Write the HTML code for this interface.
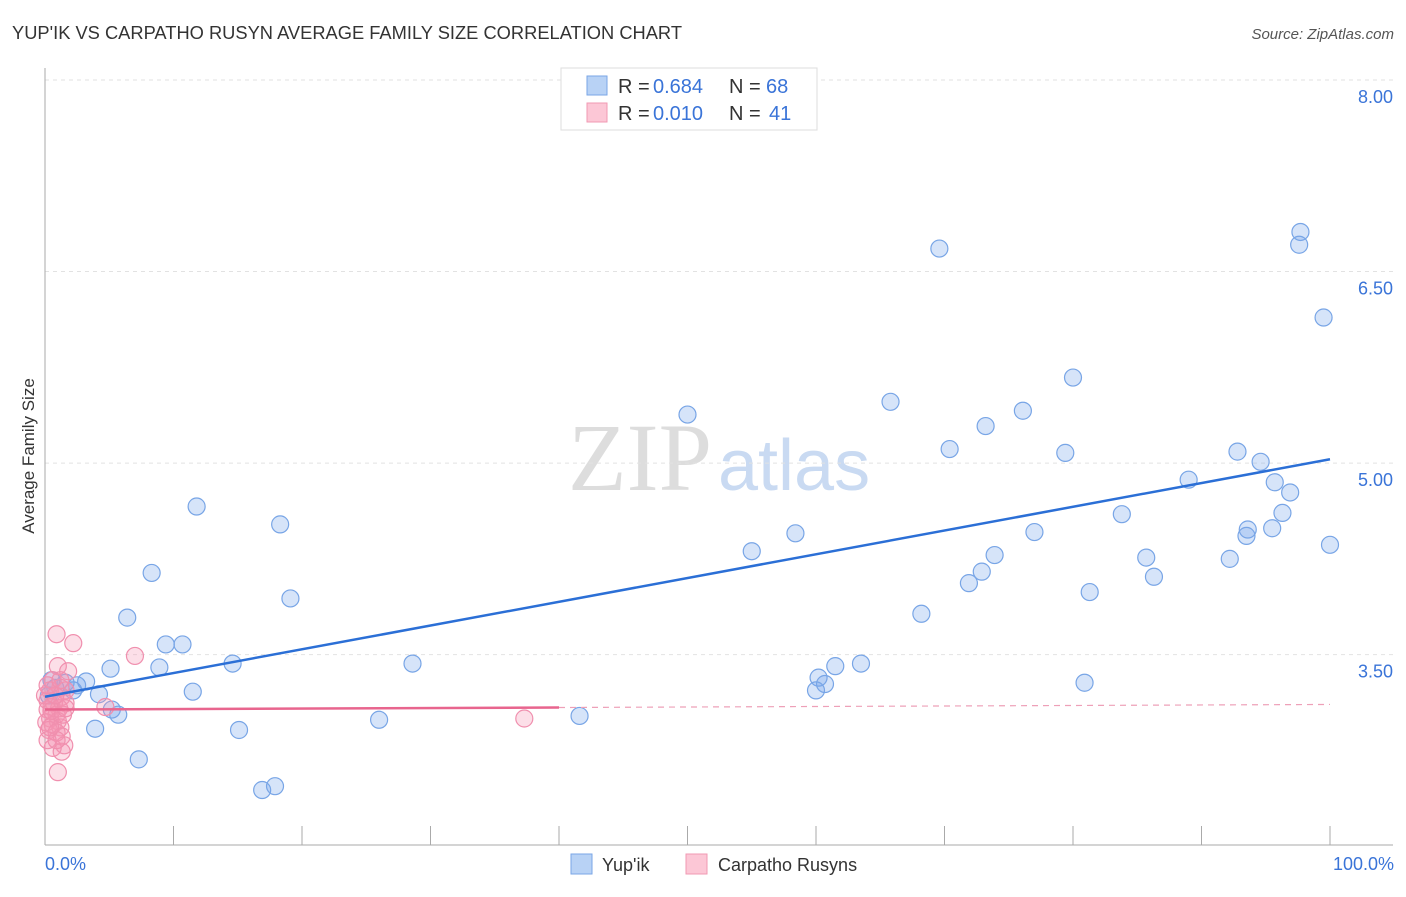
<!DOCTYPE html>
<html><head><meta charset="utf-8"><style>
body{margin:0;background:#fff;font-family:"Liberation Sans",sans-serif}
</style></head><body>
<svg width="1406" height="892" xmlns="http://www.w3.org/2000/svg" font-family="Liberation Sans, sans-serif">
<text x="12" y="39" font-size="18" fill="#333" textLength="670" lengthAdjust="spacingAndGlyphs">YUP'IK VS CARPATHO RUSYN AVERAGE FAMILY SIZE CORRELATION CHART</text>
<text x="1394" y="39" font-size="15" fill="#555" text-anchor="end" font-style="italic">Source: ZipAtlas.com</text>
<text x="712" y="490" font-size="96" fill="#ddd" text-anchor="end" font-family="Liberation Serif, serif">ZIP</text>
<text x="718" y="490" font-size="72" fill="#c9daf2">atlas</text>
<g id="grid"></g>
<g id="marks"></g>
<text transform="translate(34,456) rotate(-90)" font-size="17" fill="#333" text-anchor="middle">Average Family Size</text>
<g>
<rect x="561" y="68" width="256" height="62" fill="#fff" stroke="#ddd"/>
<rect x="587" y="76" width="20" height="19" fill="#b8d2f5" stroke="#7aa6e6"/>
<rect x="587" y="103" width="20" height="19" fill="#fcc7d6" stroke="#f199b3"/>
<text x="618" y="93" font-size="20" fill="#333">R =</text>
<text x="653" y="93" font-size="20" fill="#3a74d8">0.684</text>
<text x="729" y="93" font-size="20" fill="#333">N =</text>
<text x="766" y="93" font-size="20" fill="#3a74d8">68</text>
<text x="618" y="120" font-size="20" fill="#333">R =</text>
<text x="653" y="120" font-size="20" fill="#3a74d8">0.010</text>
<text x="729" y="120" font-size="20" fill="#333">N =</text>
<text x="769" y="120" font-size="20" fill="#3a74d8">41</text>
</g>
<g>
<rect x="571" y="854" width="21" height="20" fill="#b8d2f5" stroke="#7aa6e6"/>
<text x="602" y="871" font-size="18" fill="#333">Yup'ik</text>
<rect x="686" y="854" width="21" height="20" fill="#fcc7d6" stroke="#f199b3"/>
<text x="718" y="871" font-size="18" fill="#333">Carpatho Rusyns</text>
</g>
<text x="45" y="870" font-size="18" fill="#3a74d8">0.0%</text>
<text x="1394" y="870" font-size="18" fill="#3a74d8" text-anchor="end">100.0%</text>
</svg>
<script>
const yTicks=[8.0,6.5,5.0,3.5];
const yTickLabels=["8.00","6.50","5.00","3.50"];
const blueX=[97.7,97.6,69.6,99.5,80.0,50.0,65.8,76.1,73.2,70.4,79.4,92.8,94.6,89.0,95.7,96.9,96.3,83.8,93.6,93.5,95.5,77.0,58.4,100,55.0,85.7,73.9,92.2,72.9,71.9,86.3,81.3,68.2,80.9,63.5,61.5,60.2,60.7,60.0,41.6,28.6,26.0,19.1,18.3,11.8,8.3,6.4,9.4,10.7,8.9,14.6,11.5,15.1,5.1,3.2,2.5,1.6,2.2,4.2,5.2,5.7,3.9,7.3,16.9,17.9,0.5,0.8,0.3];
const blueY=[6.81,6.71,6.68,6.14,5.67,5.38,5.48,5.41,5.29,5.11,5.08,5.09,5.01,4.87,4.85,4.77,4.61,4.60,4.48,4.43,4.49,4.46,4.45,4.36,4.31,4.26,4.28,4.25,4.15,4.06,4.11,3.99,3.82,3.28,3.43,3.41,3.32,3.27,3.22,3.02,3.43,2.99,3.94,4.52,4.66,4.14,3.79,3.58,3.58,3.40,3.43,3.21,2.91,3.39,3.29,3.26,3.28,3.22,3.19,3.07,3.03,2.92,2.68,2.44,2.47,3.30,3.24,3.18];
const pinkX=[0.9,2.2,7.0,1.0,1.8,0.6,1.2,1.6,0.4,1.3,0.2,0.7,1.6,0.5,1.1,0.2,4.7,37.3,0.9,0.4,1.0,0.1,0.6,1.2,0.3,0.9,1.3,1.5,0.6,1.3,1.0,0.2,0.9,0.5,1.4,0,0.8,0.2,1.2,0.4,1.6];
const pinkY=[3.66,3.59,3.49,3.41,3.37,3.30,3.24,3.22,3.22,3.17,3.14,3.12,3.12,3.09,3.08,3.07,3.09,3.00,3.03,3.00,2.98,2.97,2.95,2.93,2.91,2.89,2.86,2.79,2.77,2.74,2.58,2.83,2.83,3.06,3.03,3.18,3.18,3.26,3.30,2.93,3.08];
const blueTrend=[3.17,5.03];
const pinkTrend=[3.07,3.11];
const pinkSolidEnd=40;
const X0=45,X1=1330,YT=80,PX=127.7;
const sx=v=>X0+(X1-X0)*v/100, sy=v=>YT+(8-v)*PX;
const NS="http://www.w3.org/2000/svg";
function mk(t,a,p){const e=document.createElementNS(NS,t);for(const k in a)e.setAttribute(k,a[k]);p.appendChild(e);return e;}
const g=document.getElementById('grid'),m=document.getElementById('marks');
yTicks.forEach((t,i)=>{
 const l=mk('line',{x1:45,x2:1393,y1:sy(t),y2:sy(t),stroke:'#e2e2e2','stroke-dasharray':'4,4'},g);
 
 
 const tx=mk('text',{x:1393,y:sy(t)+23,'font-size':18,fill:'#3a74d8','text-anchor':'end'},g);
 tx.textContent=yTickLabels[i];
 
 
});
const ax=mk('line',{x1:45,x2:45,y1:68,y2:845,stroke:'#aaa'},g);


const bx=mk('line',{x1:45,x2:1393,y1:845,y2:845,stroke:'#aaa'},g);


for(let i=1;i<=10;i++){const t=mk('line',{x1:sx(i*10),x2:sx(i*10),y1:826,y2:845,stroke:'#aaa'},g);
 
 }
blueX.forEach((x,i)=>{const c=mk('circle',{cx:sx(x),cy:sy(blueY[i]),r:8.5,fill:'rgba(120,165,235,0.3)',stroke:'#78a5e6','stroke-width':1.2},m);
 
 });
pinkX.forEach((x,i)=>{const c=mk('circle',{cx:sx(x),cy:sy(pinkY[i]),r:8.5,fill:'rgba(245,150,180,0.3)',stroke:'#f08fae','stroke-width':1.2},m);
 
 });
const bl=mk('line',{x1:sx(0),y1:sy(blueTrend[0]),x2:sx(100),y2:sy(blueTrend[1]),stroke:'#2b6fd6','stroke-width':2.5},m);


const pm=pinkTrend[0]+(pinkTrend[1]-pinkTrend[0])*pinkSolidEnd/100;
const pl=mk('line',{x1:sx(0),y1:sy(pinkTrend[0]),x2:sx(pinkSolidEnd),y2:sy(pm),stroke:'#e8658e','stroke-width':2.5},m);


const pd=mk('line',{x1:sx(pinkSolidEnd),y1:sy(pm),x2:sx(100),y2:sy(pinkTrend[1]),stroke:'#eea0b8','stroke-width':1.2,'stroke-dasharray':'6,5'},m);


</script>
</body></html>
